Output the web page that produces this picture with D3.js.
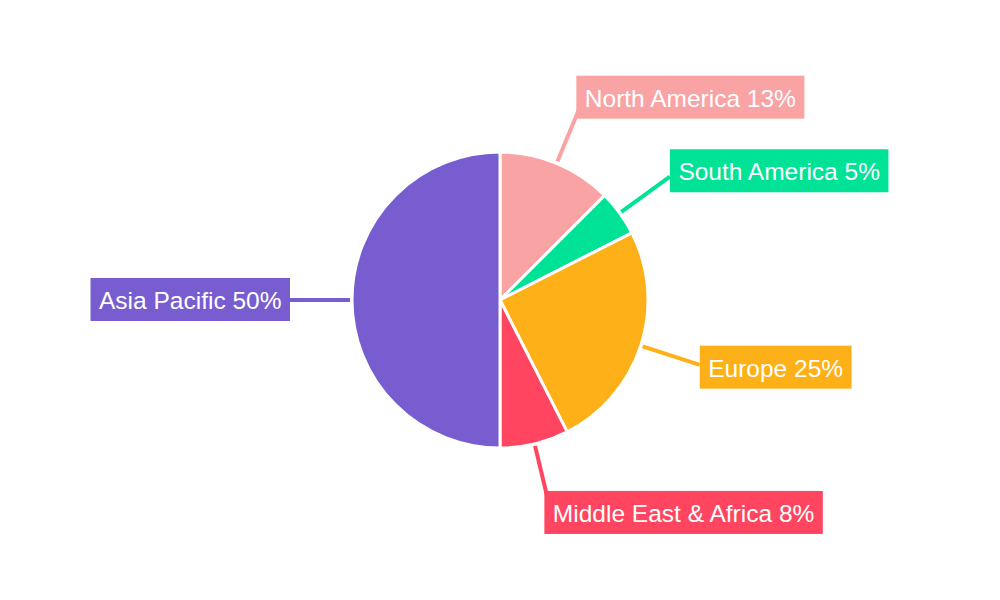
<!DOCTYPE html>
<html>
<head>
<meta charset="utf-8">
<script src="https://cdn.jsdelivr.net/npm/d3@7/dist/d3.min.js"></script>
<style>
  html, body { margin: 0; padding: 0; background: #ffffff; }
  svg { display: block; }
  text { font-family: "Liberation Sans", Arial, sans-serif; }
</style>
</head>
<body>
<svg id="chart" width="1000" height="600"></svg>
<script>
const regions = ["North America", "South America", "Europe", "Middle East & Africa", "Asia Pacific"];
const shares  = [12.5, 5, 25, 7.5, 50];
const colors  = ["#F9A3A4", "#00E396", "#FEB019", "#FF4560", "#775DD0"];

const W = 1000, H = 600;
const cx = 500, cy = 300;
const R = 148;
const lineStart = 150, lineEnd = 210;
const fontSize = 24.5, padX = 8.5, boxH = 43;

const svg = d3.select("#chart");
const g = svg.append("g").attr("transform", `translate(${cx},${cy})`);

const pie = d3.pie().sort(null).value(d => d.v);
const data = pie(regions.map((name, i) => ({ name, v: shares[i], color: colors[i] })));
const arc = d3.arc().innerRadius(0).outerRadius(R);

const pt = (a, r) => [Math.sin(a) * r, -Math.cos(a) * r];

// leader lines (under labels)
g.selectAll("line.leader").data(data).enter().append("line")
  .attr("class", "leader")
  .attr("x1", d => pt((d.startAngle + d.endAngle) / 2, lineStart)[0])
  .attr("y1", d => pt((d.startAngle + d.endAngle) / 2, lineStart)[1])
  .attr("x2", d => pt((d.startAngle + d.endAngle) / 2, lineEnd)[0])
  .attr("y2", d => pt((d.startAngle + d.endAngle) / 2, lineEnd)[1])
  .attr("stroke", d => d.data.color)
  .attr("stroke-width", 4);

// slices
g.selectAll("path.slice").data(data).enter().append("path")
  .attr("class", "slice")
  .attr("d", arc)
  .attr("fill", d => d.data.color)
  .attr("stroke", "#ffffff")
  .attr("stroke-width", 3)
  .attr("stroke-linejoin", "round");

// labels
const labels = g.selectAll("g.label").data(data).enter().append("g").attr("class", "label");
labels.each(function(d) {
  const a = (d.startAngle + d.endAngle) / 2;
  const [ex, ey] = pt(a, lineEnd);
  const right = Math.sin(a) >= 0;
  const sel = d3.select(this);
  const t = sel.append("text")
    .attr("font-size", fontSize)
    .attr("fill", "#ffffff")
    .attr("dominant-baseline", "central")
    .text(`${d.data.name} ${Math.round(d.data.v)}%`);
  const tw = t.node().getComputedTextLength();
  const bw = tw + 2 * padX;
  const c = Math.cos(a);
  const shift = 5 * Math.max(0, (Math.abs(c) - 0.6) / 0.4);
  const bx = right ? ex - shift : ex - bw + shift;
  const bcy = ey - 9 * c - 0.5;
  sel.insert("rect", "text")
    .attr("x", bx).attr("y", bcy - boxH / 2)
    .attr("width", bw).attr("height", boxH)
    .attr("fill", d.data.color);
  t.attr("x", bx + padX).attr("y", bcy + 1);
});
</script>
</body>
</html>
